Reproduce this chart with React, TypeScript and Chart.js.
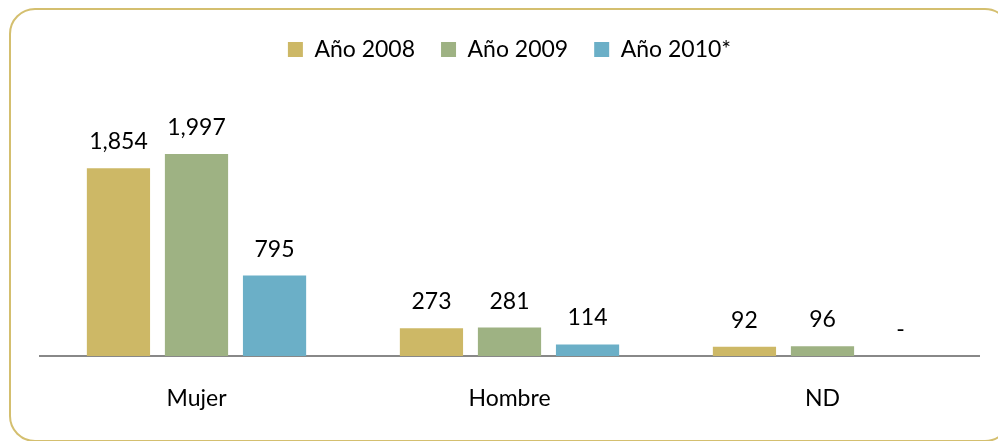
import React, { useEffect, useRef } from "react";
import { Chart, registerables } from "chart.js";

Chart.register(...registerables);

const categories = ["Mujer", "Hombre", "ND"];
const series2008 = [1854, 273, 92];
const series2009 = [1997, 281, 96];
const series2010 = [795, 114, 0];
const seriesNames = ["Año 2008", "Año 2009", "Año 2010*"];
const seriesColors = ["#CDB866", "#9EB283", "#6BAFC7"];

const FONT = "Lato, 'Open Sans', sans-serif";

const formatValue = (v: number) => (v === 0 ? "-" : v.toLocaleString("en-US"));

const dataLabels = {
  id: "dataLabels",
  afterDatasetsDraw(chart: any) {
    const ctx = chart.ctx;
    ctx.save();
    ctx.font = `23px ${FONT}`;
    ctx.fillStyle = "#000";
    ctx.textAlign = "center";
    ctx.textBaseline = "alphabetic";
    chart.data.datasets.forEach((ds: any, i: number) => {
      const meta = chart.getDatasetMeta(i);
      meta.data.forEach((el: any, j: number) => {
        const v = ds.data[j];
        ctx.fillText(formatValue(v), el.x, el.y - 19);
      });
    });
    ctx.restore();
  },
};

export default function App() {
  const ref = useRef<HTMLCanvasElement>(null);
  useEffect(() => {
    if (!ref.current) return;
    const chart = new Chart(ref.current, {
      type: "bar",
      data: {
        labels: categories,
        datasets: [series2008, series2009, series2010].map((d, i) => ({
          label: seriesNames[i],
          data: d,
          backgroundColor: seriesColors[i],
          borderWidth: 0,
          categoryPercentage: 0.748,
          barPercentage: 0.81,
        })),
      },
      options: {
        responsive: false,
        animation: false,
        layout: { padding: { left: 40, right: 19, top: 12, bottom: 0 } },
        plugins: {
          legend: {
            position: "top",
            labels: {
              boxWidth: 15,
              boxHeight: 15,
              padding: 26,
              color: "#000",
              font: { family: FONT, size: 23 },
            },
          },
          tooltip: { enabled: false },
        },
        scales: {
          y: { display: false, min: 0, max: 2816 },
          x: {
            grid: { display: false, drawTicks: false },
            border: { display: true, color: "#888888", width: 2 },
            ticks: { color: "#000", padding: 29, font: { family: FONT, size: 23 } },
            afterFit(scale: any) {
              scale.height = 85;
            },
          },
        },
      },
      plugins: [dataLabels],
    });
    return () => chart.destroy();
  }, []);

  return (
    <div
      style={{
        position: "fixed",
        left: 0,
        top: 0,
        width: 998,
        height: 441,
        overflow: "hidden",
        background: "#fff",
      }}
    >
      <div
        style={{
          position: "absolute",
          left: 9,
          top: 8,
          width: 1002,
          height: 434,
          border: "2px solid #D4BF6F",
          borderRadius: 26,
          boxSizing: "border-box",
        }}
      />
      <canvas
        ref={ref}
        width={998}
        height={441}
        style={{ position: "absolute", left: 0, top: 0 }}
      />
    </div>
  );
}
